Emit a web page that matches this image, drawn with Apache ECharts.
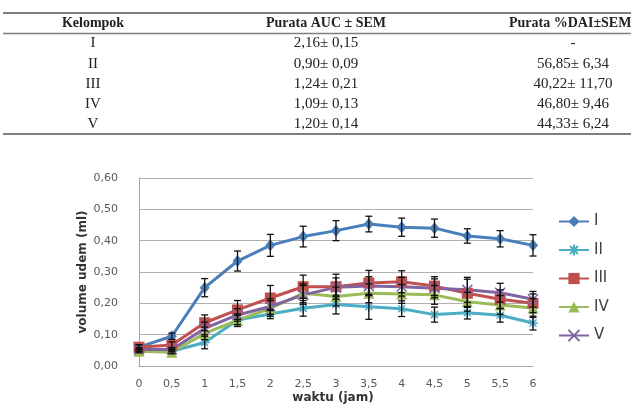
<!DOCTYPE html>
<html><head><meta charset="utf-8">
<script src="https://cdn.jsdelivr.net/npm/echarts@6/dist/echarts.min.js"></script>
<style>html,body{margin:0;padding:0;background:#fff}#c{width:631px;height:413px}</style>
</head><body><div id="c"></div>
<script>
// ---- table data ----
var tableHeaders = ['Kelompok', 'Purata AUC ± SEM', 'Purata %DAI±SEM'];
var groups = ['I', 'II', 'III', 'IV', 'V'];
var aucText = ['2,16± 0,15', '0,90± 0,09', '1,24± 0,21', '1,09± 0,13', '1,20± 0,14'];
var daiText = ['-', '56,85± 6,34', '40,22± 11,70', '46,80± 9,46', '44,33± 6,24'];

// ---- chart data ----
var times = ['0','0,5','1','1,5','2','2,5','3','3,5','4','4,5','5','5,5','6'];
var yTicks = ['0,00','0,10','0,20','0,30','0,40','0,50','0,60'];
var seriesNames = ['I','II','III','IV','V'];
var valI   = [0.060,0.095,0.250,0.335,0.385,0.413,0.432,0.453,0.443,0.440,0.415,0.406,0.385];
var valII  = [0.050,0.047,0.075,0.147,0.166,0.184,0.196,0.189,0.183,0.164,0.170,0.162,0.137];
var valIII = [0.060,0.067,0.138,0.179,0.217,0.253,0.253,0.265,0.269,0.255,0.232,0.213,0.200];
var valIV  = [0.047,0.044,0.104,0.146,0.184,0.232,0.222,0.232,0.230,0.227,0.205,0.195,0.185];
var valV   = [0.053,0.053,0.120,0.163,0.190,0.227,0.251,0.255,0.253,0.248,0.243,0.234,0.213];
var errI   = [0.008,0.010,0.029,0.032,0.035,0.033,0.032,0.025,0.029,0.029,0.023,0.026,0.034];
var errII  = [0.005,0.006,0.020,0.015,0.015,0.025,0.030,0.040,0.025,0.024,0.020,0.022,0.022];
var errIII = [0.008,0.010,0.025,0.030,0.040,0.037,0.040,0.040,0.035,0.030,0.045,0.030,0.030];
var errIV  = [0.005,0.005,0.020,0.020,0.025,0.030,0.030,0.030,0.030,0.030,0.030,0.030,0.030];
var errV   = [0.006,0.006,0.020,0.020,0.025,0.030,0.030,0.030,0.030,0.030,0.040,0.030,0.025];

var values = [valI, valII, valIII, valIV, valV];
var errors = [errI, errII, errIII, errIV, errV];
var colors = ['#4A7EBB', '#4BACC6', '#C0504D', '#9BBB59', '#8064A2'];
var symbols = [
  'diamond',
  'path://M0,5L10,5M5,0L5,10M1.5,1.5L8.5,8.5M8.5,1.5L1.5,8.5',
  'rect',
  'triangle',
  'path://M0,0L10,10M10,0L0,10'
];
var symbolSizes = [[10,12], 10, 11, 11, 10];

var chart = echarts.init(document.getElementById('c'));

// table graphics
var g = [];
var colX = [93, 326, 573];
var rowY = [43.5, 64, 84, 104, 124.5];
var serif = '"Liberation Serif", serif';
g.push({type:'line', shape:{x1:3,y1:13,x2:631,y2:13}, style:{stroke:'#7f7f7f', lineWidth:2}});
g.push({type:'line', shape:{x1:3,y1:33.5,x2:631,y2:33.5}, style:{stroke:'#7f7f7f', lineWidth:1.5}});
g.push({type:'line', shape:{x1:3,y1:134,x2:631,y2:134}, style:{stroke:'#7f7f7f', lineWidth:2}});
tableHeaders.forEach(function(h, i){
  g.push({type:'text', x: i === 2 ? 509 : colX[i], y: 23,
    style:{text:h, font:'bold 14px ' + serif, fill:'#222', align: i === 2 ? 'left' : 'center', verticalAlign:'middle'}});
});
groups.forEach(function(gname, r){
  [gname, aucText[r], daiText[r]].forEach(function(t, c){
    g.push({type:'text', x: colX[c], y: rowY[r],
      style:{text:t, font:'15px ' + serif, fill:'#222', align:'center', verticalAlign:'middle'}});
  });
});
// axis titles
g.push({type:'text', x:333, y:398, style:{text:'waktu (jam)', font:'bold 12px "DejaVu Sans", sans-serif', fill:'#333', align:'center', verticalAlign:'middle'}});
g.push({type:'text', x:83, y:272, rotation:Math.PI/2, style:{text:'volume udem (ml)', font:'bold 12px "DejaVu Sans", sans-serif', fill:'#333', align:'center', verticalAlign:'middle'}});

var series = [];
values.forEach(function(v, i){
  series.push({
    name: seriesNames[i], type:'line', data:v,
    symbol: symbols[i], symbolSize: symbolSizes[i],
    lineStyle:{color:colors[i], width:3},
    itemStyle:{color:colors[i], borderColor: (i===1||i===4) ? colors[i] : undefined, borderWidth:(i===1||i===4)?1.5:0},
    z: 3, animation:false
  });
});
values.forEach(function(v, i){
  var data = v.map(function(y, k){ return [k, y - errors[i][k], y + errors[i][k]]; });
  series.push({
    type:'custom', data:data, z: 5, animation:false, silent:true,
    renderItem: function(params, api){
      var x = api.value(0);
      var lo = api.coord([x, api.value(1)]);
      var hi = api.coord([x, api.value(2)]);
      var hw = 3.5;
      var st = {stroke:'#111', lineWidth:1.3};
      return {type:'group', children:[
        {type:'line', shape:{x1:lo[0],y1:lo[1],x2:hi[0],y2:hi[1]}, style:st},
        {type:'line', shape:{x1:lo[0]-hw,y1:lo[1],x2:lo[0]+hw,y2:lo[1]}, style:st},
        {type:'line', shape:{x1:hi[0]-hw,y1:hi[1],x2:hi[0]+hw,y2:hi[1]}, style:st}
      ]};
    },
    encode:{x:0, y:[1,2]}
  });
});

chart.setOption({
  animation:false,
  graphic:g,
  grid:{left:139, right:98, top:178, bottom:47},
  legend:{
    orient:'vertical', left:553, top:209, itemWidth:30, itemHeight:14, itemGap:13.5,
    data: seriesNames,
    textStyle:{fontSize:15, color:'#404040', fontFamily:'"DejaVu Sans", sans-serif'}
  },
  xAxis:{
    type:'category', data:times, boundaryGap:false,
    axisLine:{lineStyle:{color:'#a6a6a6'}}, axisTick:{show:false},
    axisLabel:{color:'#595959', fontSize:11, margin:13, fontFamily:'"DejaVu Sans", sans-serif'}
  },
  yAxis:{
    type:'value', min:0, max:0.6, interval:0.1,
    axisLine:{show:true, lineStyle:{color:'#a6a6a6'}}, axisTick:{show:false},
    splitLine:{lineStyle:{color:'#b0b0b0'}},
    axisLabel:{color:'#595959', fontSize:11, margin:21, fontFamily:'"DejaVu Sans", sans-serif',
      formatter:function(v){ return yTicks[Math.round(v*10)]; }}
  },
  series:series
});
</script></body></html>
